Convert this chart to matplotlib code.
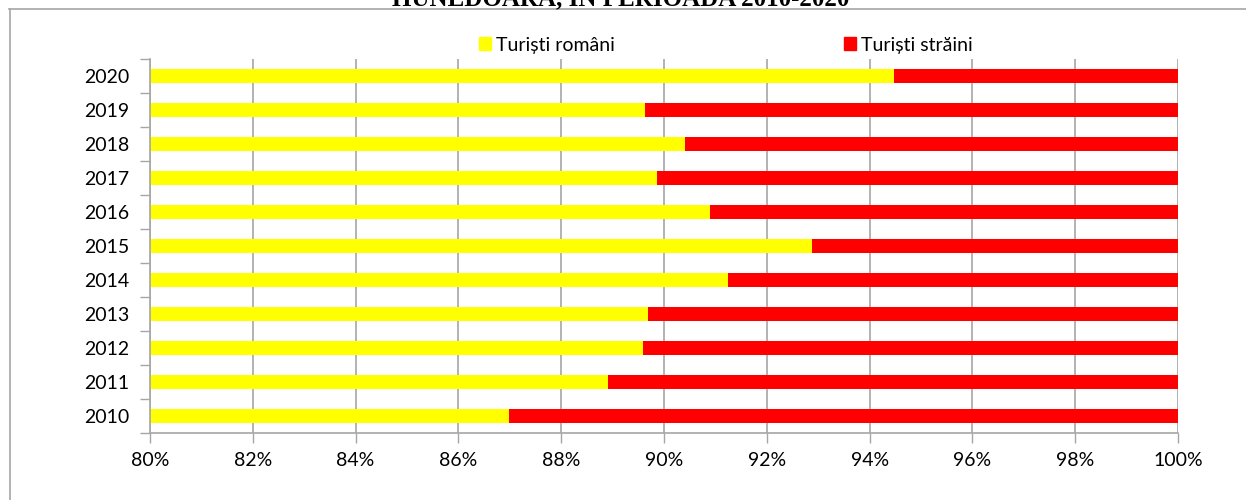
import matplotlib
matplotlib.use("Agg")
import matplotlib.pyplot as plt
from matplotlib.lines import Line2D
from matplotlib.patches import Patch
import numpy as np

years = ["2010", "2011", "2012", "2013", "2014", "2015", "2016", "2017", "2018", "2019", "2020"]
romani = [86.98, 88.91, 89.60, 89.69, 91.25, 92.87, 90.90, 89.86, 90.41, 89.63, 94.47]
straini = [100 - v for v in romani]
series_names = ["Turiști români", "Turiști străini"]
x_ticks = [80, 82, 84, 86, 88, 90, 92, 94, 96, 98, 100]
title_text = "HUNEDOARA, ÎN PERIOADA 2010-2020"

plt.rcParams['font.family'] = ['Lato', 'DejaVu Sans']

W, H = 1246, 500
fig = plt.figure(figsize=(W / 100, H / 100), dpi=100)
ax = fig.add_axes([150 / W, 1 - 433 / H, (1178 - 150) / W, (433 - 59) / H])

pos = np.arange(len(years))
ax.barh(pos, romani, height=0.4, color="#FFFF00", zorder=3)
ax.barh(pos, straini, left=romani, height=0.4, color="#FF0000", zorder=3)

ax.set_xlim(80, 100)
ax.set_ylim(-0.5, len(years) - 0.5)
ax.set_xticks(x_ticks)
ax.set_xticklabels([f"{v}%" for v in x_ticks], fontsize=14)
ax.set_yticks(pos)
ax.set_yticklabels(years, fontsize=14)
ax.set_yticks(np.arange(-0.5, len(years), 1.0), minor=True)
ax.tick_params(axis='y', which='major', length=0, pad=15)
ax.tick_params(axis='y', which='minor', length=7, color="#a6a6a6", width=1)
ax.tick_params(axis='x', which='major', length=7, color="#a6a6a6", width=1, pad=7)
ax.grid(axis='x', color="#a6a6a6", linewidth=1.2, zorder=0)
for s in ['top', 'right']:
    ax.spines[s].set_visible(False)
for s in ['left', 'bottom']:
    ax.spines[s].set_color("#a6a6a6")
    ax.spines[s].set_linewidth(1.2)
    ax.spines[s].set_zorder(4)

handles = [Patch(color="#FFFF00"), Patch(color="#FF0000")]
fig.legend(handles, series_names, ncol=2, loc='center',
           bbox_to_anchor=(726 / W, 1 - 45 / H), frameon=False, fontsize=14,
           handlelength=0.6, handleheight=0.6, handletextpad=0.25, columnspacing=11.8)

# outer frame (top and left visible)
fig.add_artist(Line2D([9 / W, 1], [1 - 8.5 / H, 1 - 8.5 / H], color="#a6a6a6", lw=1.2,
                      transform=fig.transFigure))
fig.add_artist(Line2D([9.5 / W, 9.5 / W], [0, 1 - 8.5 / H], color="#a6a6a6", lw=1.2,
                      transform=fig.transFigure))

fig.text(621 / W, 1 - 5 / H, title_text, ha='center', va='baseline',
         fontsize=18, fontweight='bold', family=['Liberation Serif', 'DejaVu Serif'])

fig.savefig("out.png", dpi=100, facecolor="white")
